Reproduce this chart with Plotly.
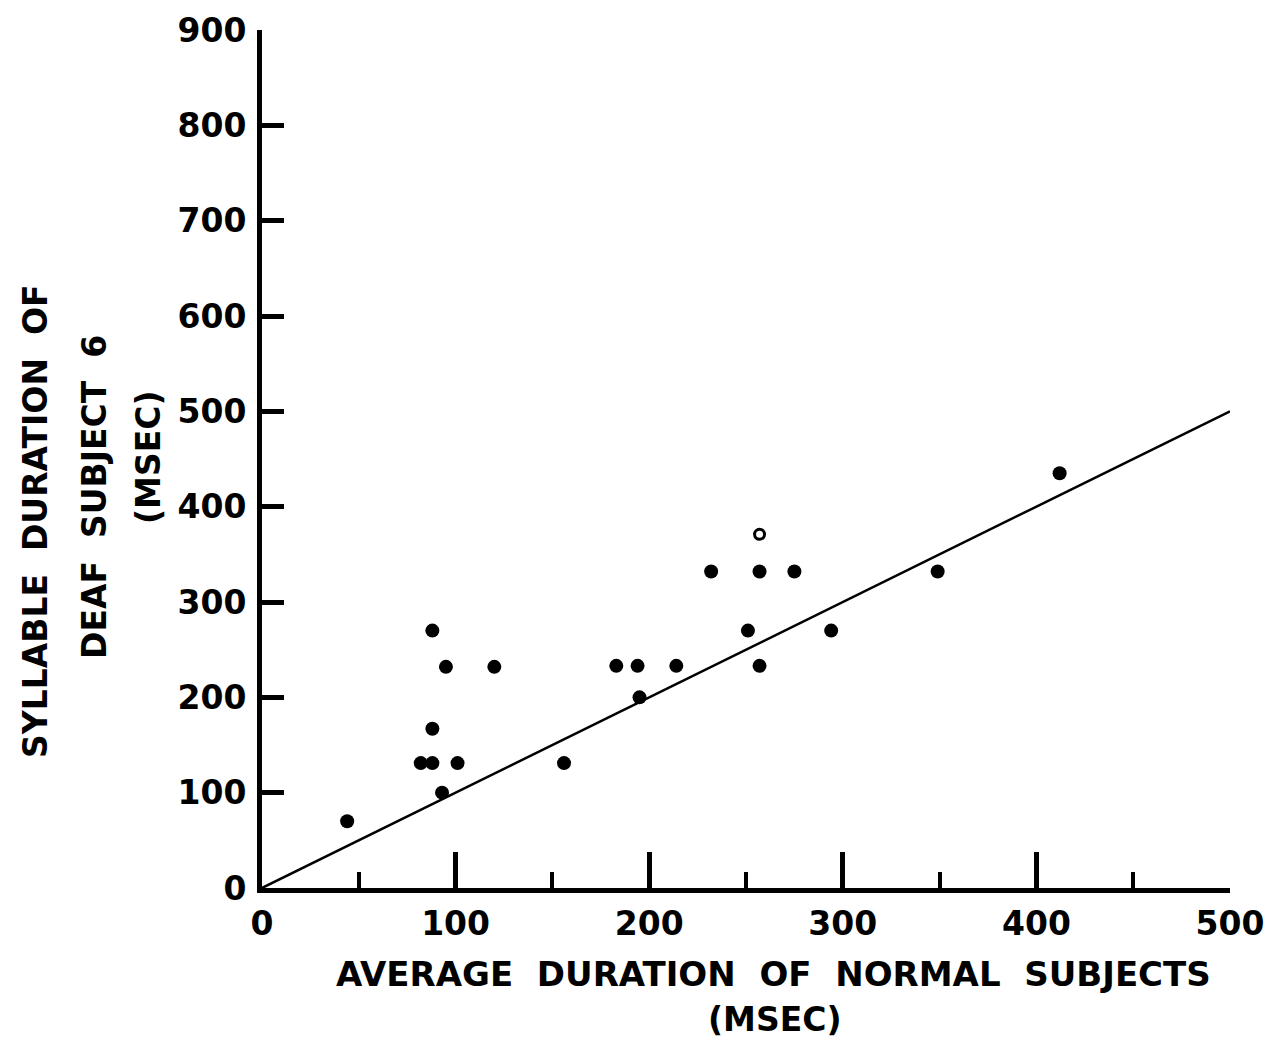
import plotly.graph_objects as go

# Data (msec)
normal_avg = [44, 88, 95, 120, 88, 82, 88, 101, 93, 156, 183, 194, 214, 195,
              232, 251, 257, 257, 275, 294, 349, 412]
deaf_s6 = [70, 270, 232, 232, 167, 131, 131, 131, 100, 131, 233, 233, 233, 200,
           332, 270, 332, 233, 332, 270, 332, 435]
open_x = [257]
open_y = [371]
line_x = [0, 500]
line_y = [0, 500]

x_ticks = [0, 100, 200, 300, 400, 500]
y_ticks = [0, 100, 200, 300, 400, 500, 600, 700, 800, 900]

FONT = "DejaVu Sans"
L, R, T, B = 262, 46, 30, 156
W, H = 1276, 1044


def px_to_paper(px, py):
    w = W - L - R
    h = H - T - B
    return (px - L) / w, (H - B - py) / h


anns = []
for text, px, py, ang, sz in [
    ("AVERAGE  DURATION  OF  NORMAL  SUBJECTS", 773, 974, 0, 34),
    ("(MSEC)", 775, 1019, 0, 33),
    ("SYLLABLE  DURATION  OF", 35, 521, -90, 33),
    ("DEAF  SUBJECT  6", 95, 497, -90, 33),
    ("(MSEC)", 148, 457, -90, 33),
]:
    xx, yy = px_to_paper(px, py)
    anns.append(dict(text=text, x=xx, y=yy, xref="paper", yref="paper",
                     showarrow=False, textangle=ang, xanchor="center", yanchor="middle",
                     font=dict(family=FONT, size=sz, weight="bold", color="black")))

fig = go.Figure()
fig.add_trace(go.Scatter(x=line_x, y=line_y, mode="lines",
                         line=dict(color="black", width=2.5), hoverinfo="skip"))
fig.add_trace(go.Scatter(x=normal_avg, y=deaf_s6, mode="markers",
                         marker=dict(color="black", size=14, line=dict(width=0))))
fig.add_trace(go.Scatter(x=open_x, y=open_y, mode="markers",
                         marker=dict(color="white", size=10,
                                     line=dict(color="black", width=3))))

fig.update_layout(
    width=W, height=H,
    paper_bgcolor="white", plot_bgcolor="white",
    showlegend=False,
    margin=dict(l=L, r=R, t=T, b=B),
    font=dict(family=FONT, color="black", size=30, weight="bold"),
    xaxis=dict(range=[0, 500], tickvals=x_ticks, showgrid=False, zeroline=False,
               showline=True, linecolor="black", linewidth=5,
               ticks="inside", ticklen=36, tickwidth=5, tickcolor="black",
               minor=dict(ticks="inside", dtick=50, tick0=0, ticklen=16,
                          tickwidth=4, tickcolor="black"),
               tickfont=dict(family=FONT, size=33, weight="bold"),
               ticklabelstandoff=2),
    yaxis=dict(range=[0, 900], tickvals=y_ticks, showgrid=False, zeroline=False,
               showline=True, linecolor="black", linewidth=5,
               ticks="inside", ticklen=22, tickwidth=5, tickcolor="black",
               tickfont=dict(family=FONT, size=33, weight="bold"),
               ticklabelstandoff=4),
    annotations=anns,
)

fig.write_html("out.html")
